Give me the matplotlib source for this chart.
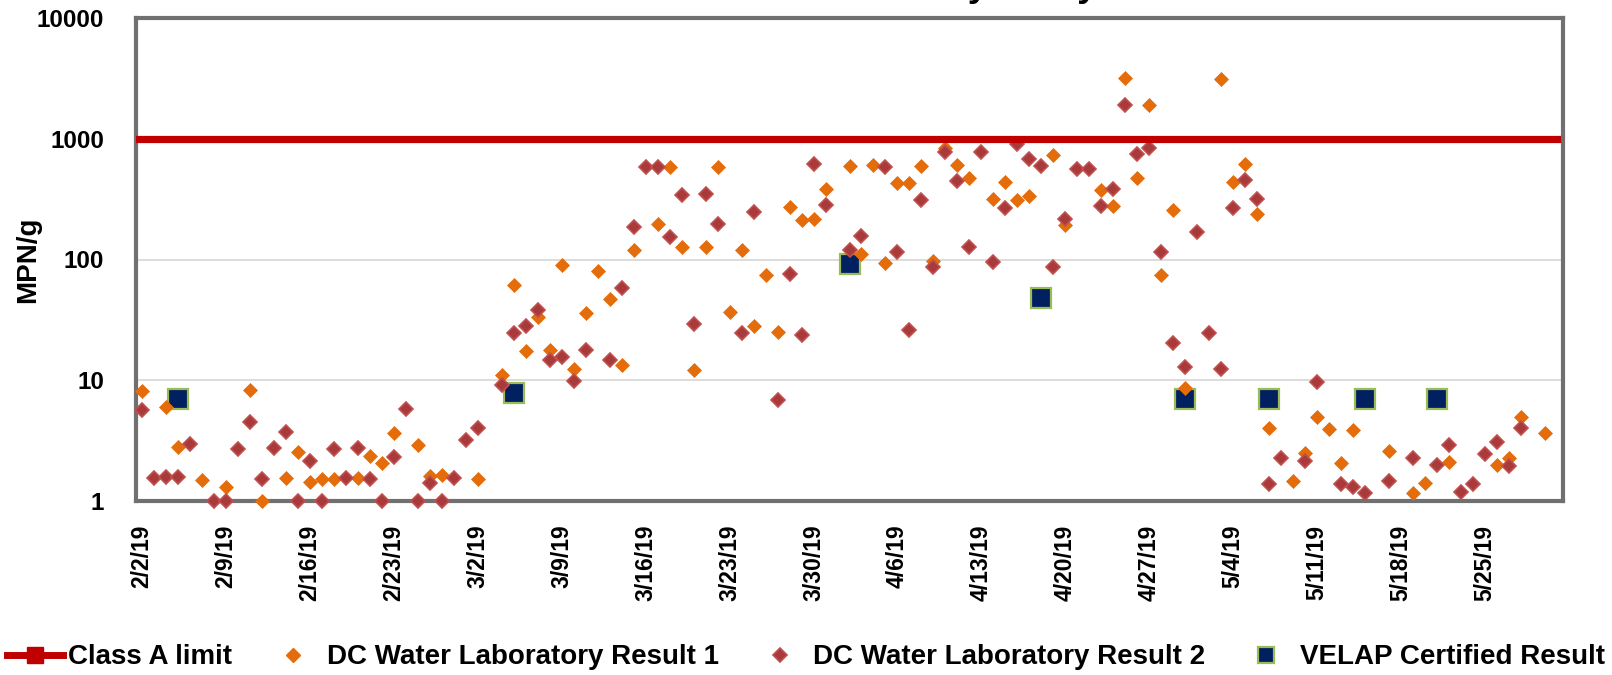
import matplotlib
matplotlib.use("Agg")
import matplotlib.pyplot as plt
from matplotlib.lines import Line2D
import pandas as pd

plt.rcParams['font.family'] = ['Liberation Sans', 'DejaVu Sans']
plt.rcParams['font.weight'] = 'bold'

start = pd.Timestamp("2019-02-02")

# days since 2/2/19 and MPN/g values
r1_days = [0, 2, 3, 5, 7, 9, 10, 12, 13, 14, 15, 16, 18, 19, 20, 21, 23, 24, 25, 28,
           30, 31, 32, 33, 34, 35, 36, 37, 38, 39, 40, 41, 43, 44, 45, 46, 47, 48, 49, 50,
           51, 52, 53, 54, 55, 56, 57, 59, 60, 61, 62, 63, 64, 65, 66, 67, 68, 69, 71, 72,
           73, 74, 76, 77, 80, 81, 82, 83, 84, 85, 86, 87, 90, 91, 92, 93, 94, 96, 97, 98,
           99, 100, 101, 104, 106, 107, 109, 113, 114, 115, 117]
r1_vals = [8.2, 5.95, 2.8, 1.5, 1.31, 8.3, 1.0, 1.56, 2.54, 1.43, 1.53, 1.53, 1.55, 2.35, 2.07, 3.67, 2.9, 1.62, 1.64, 1.52,
           11.1, 61.7, 17.6, 33.2, 17.8, 90, 12.3, 36, 81, 47, 13.4, 119, 195, 584, 128, 12.2, 128, 584, 37, 121,
           28.3, 75, 25.3, 272, 211, 215, 386, 591, 111, 606, 93, 433, 433, 591, 97, 839, 603, 476, 315, 442,
           309, 334, 730, 194, 378, 279, 3200, 476, 1897, 74, 255, 8.55, 3140, 438, 622, 236, 4.06, 1.47, 2.5, 4.95,
           3.96, 2.08, 3.86, 2.6, 1.16, 1.41, 2.09, 1.99, 2.29, 4.98, 3.65]

r2_days = [0, 1, 2, 3, 4, 6, 7, 8, 9, 10, 11, 12, 13, 14, 15, 16, 17, 18, 19, 20,
           21, 22, 23, 24, 25, 26, 27, 28, 30, 31, 32, 33, 34, 35, 36, 37, 39, 40, 41, 42,
           43, 44, 45, 46, 47, 48, 50, 51, 53, 54, 55, 56, 57, 59, 60, 62, 63, 64, 65, 66,
           67, 68, 69, 70, 71, 72, 73, 74, 75, 76, 77, 78, 79, 80, 81, 82, 83, 84, 85, 86,
           87, 88, 89, 90, 91, 92, 93, 94, 95, 97, 98, 100, 101, 102, 104, 106, 108, 109, 110, 111,
           112, 113, 114, 115]
r2_vals = [5.72, 1.54, 1.57, 1.57, 2.99, 1.0, 1.0, 2.67, 4.47, 1.53, 2.74, 3.74, 1.0, 2.16, 1.0, 2.7, 1.54, 2.77, 1.53, 1.0,
           2.33, 5.8, 1.0, 1.41, 1.0, 1.54, 3.21, 4.03, 9.2, 24.6, 28.3, 38.5, 14.8, 15.5, 9.9, 17.8, 14.8, 58, 185, 584,
           584, 153, 340, 29.3, 346, 198, 24.6, 246, 6.9, 76, 23.5, 622, 281, 119, 158, 584, 115, 26.2, 313, 86,
           773, 447, 126, 773, 94.5, 268, 900, 679, 591, 86, 215, 565, 565, 276, 383, 1897, 754, 839, 116, 20.4,
           12.9, 168, 24.6, 12.5, 267, 453, 319, 1.39, 2.29, 2.15, 9.7, 1.38, 1.31, 1.16, 1.47, 2.29, 1.98, 2.9, 1.19, 1.39,
           2.47, 3.1, 1.94, 4.06]

velap_days = [3, 31, 59, 75, 87, 94, 102, 108]
velap_vals = [7, 7.8, 92, 48, 7, 7, 7, 7]

limit_days = [-1, 118]
limit_vals = [1000, 1000]

to_dates = lambda d: start + pd.to_timedelta(d, unit="D")
tick_dates = pd.date_range("2019-02-02", "2019-05-25", freq="7D")
tick_labels = [f"{t.month}/{t.day}/{t:%y}" for t in tick_dates]

fig = plt.figure(figsize=(16.12, 6.75), dpi=100)
ax = fig.add_axes([136 / 1612, 1 - 501 / 675, 1427 / 1612, 483 / 675])

ax.plot(to_dates(limit_days), limit_vals, color="#C00000", lw=5.2, zorder=6)
ax.plot(to_dates(velap_days), velap_vals, ls="none", marker="s", ms=15,
        mfc="#002060", mec="#9BBB59", mew=1.6, zorder=3, clip_on=False)
ax.plot(to_dates(r1_days), r1_vals, ls="none", marker="D", ms=7,
        mfc="#E46C0A", mec="#E46C0A", mew=0.5, zorder=4, clip_on=False)
ax.plot(to_dates(r2_days), r2_vals, ls="none", marker="D", ms=7,
        mfc="#A93A3C", mec="#C0504D", mew=1.2, zorder=5, clip_on=False)

ax.set_yscale("log")
ax.set_ylim(1, 10000)
ax.set_yticks([1, 10, 100, 1000, 10000])
ax.set_yticklabels(["1", "10", "100", "1000", "10000"])
ax.minorticks_off()
ax.set_xlim(start - pd.Timedelta(hours=12), start + pd.Timedelta(days=118.5))
ax.set_xticks(tick_dates)
ax.set_xticklabels(tick_labels, rotation=90)
ax.tick_params(axis="y", length=0, pad=23, labelsize=17.5)
ax.tick_params(axis="x", length=0, pad=17, labelsize=16.5)
ax.grid(axis="y", color="#D9D9D9", lw=1.3)
ax.set_axisbelow(True)
for s in ax.spines.values():
    s.set_color("#707070")
    s.set_linewidth(3)

ax.set_ylabel("MPN/g", fontsize=20, fontweight="bold")
ax.yaxis.set_label_coords(-0.0666, 0.5)

# title is cut off by the top edge in the original, only descenders show
fig.text(972 / 1612, 1 + 4 / 675, "Laboratory Analysis", ha="center", va="baseline",
         fontsize=26.6, fontweight="bold")

handles = [
    Line2D([], [], color="#C00000", lw=5, marker="s", ms=11, mfc="#C00000", mec="#C00000"),
    Line2D([], [], ls="none", marker="D", ms=7, mfc="#E46C0A", mec="#E46C0A"),
    Line2D([], [], ls="none", marker="D", ms=7, mfc="#A93A3C", mec="#C0504D", mew=1.2),
    Line2D([], [], ls="none", marker="s", ms=11, mfc="#002060", mec="#9BBB59", mew=1.6),
]
labels = ["Class A limit", "DC Water Laboratory Result 1",
          "DC Water Laboratory Result 2", "VELAP Certified Result"]
fig.legend(handles, labels, loc="center", bbox_to_anchor=(0.5, 0.026), ncol=4,
           frameon=False, prop={"size": 20, "weight": "bold"},
           handlelength=2.0, handletextpad=0.2, columnspacing=1.2, borderpad=0)

fig.savefig("out.png", dpi=100)
